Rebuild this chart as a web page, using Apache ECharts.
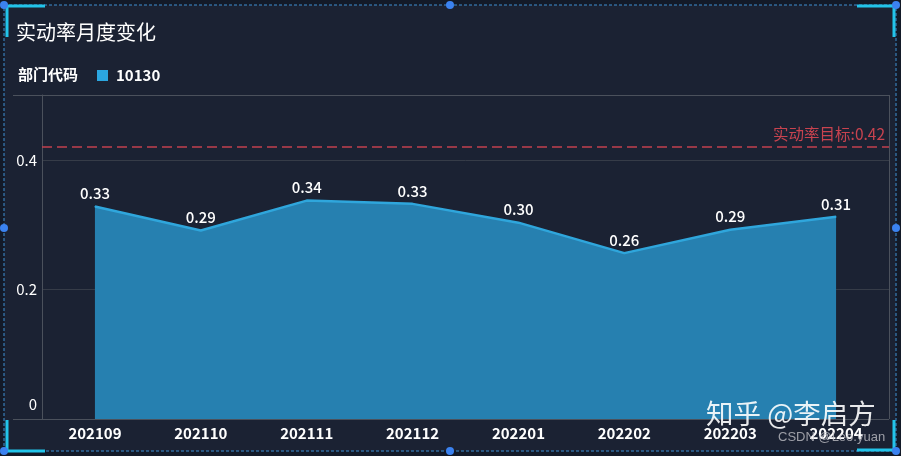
<!DOCTYPE html>
<html>
<head>
<meta charset="utf-8">
<script src="https://cdn.jsdelivr.net/npm/echarts@6/dist/echarts.min.js"></script>
<style>
html,body{margin:0;padding:0;background:#131a28;}
#main{width:901px;height:456px;}
</style>
</head>
<body>
<div id="main"></div>
<script>
var categories = ['202109','202110','202111','202112','202201','202202','202203','202204'];
var values = [0.328, 0.291, 0.337, 0.332, 0.303, 0.256, 0.292, 0.312];
var seriesName = '10130';
var targetValue = 0.42;
var yTicks = [0, 0.2, 0.4];

var chart = echarts.init(document.getElementById('main'));
var font = '"Microsoft YaHei","Noto Sans CJK SC",sans-serif';
var option = {
  backgroundColor: '#131a28',
  textStyle: {fontFamily: font},
  title: [
    {text: '实动率月度变化', left: 11, top: 17, textStyle: {color: '#ffffff', fontSize: 20, fontWeight: 'normal', fontFamily: font}},
    {text: '部门代码', left: 13, top: 62, textStyle: {color: '#ffffff', fontSize: 15, fontWeight: 'bold', fontFamily: font}}
  ],
  legend: {
    left: 92, top: 63,
    itemWidth: 11, itemHeight: 11, itemGap: 8,
    icon: 'rect',
    textStyle: {color: '#ffffff', fontSize: 15, fontWeight: 'bold', fontFamily: font, padding: [0, 0, 0, 3]},
    data: [seriesName]
  },
  grid: {left: 42, right: 12, top: 95, bottom: 37, containLabel: false},
  xAxis: {
    type: 'category',
    data: categories,
    boundaryGap: true,
    axisLine: {show: false},
    axisTick: {show: false},
    axisLabel: {color: '#ffffff', fontSize: 15, fontWeight: 'bold', margin: 7, fontFamily: font}
  },
  yAxis: {
    type: 'value',
    min: 0, max: 0.5, interval: 0.2,
    axisLine: {show: true, lineStyle: {color: '#4b515c'}},
    axisTick: {show: false},
    axisLabel: {
      color: '#ffffff', fontSize: 15, margin: 5, fontFamily: font,
      formatter: function (v) {
        var r = Math.round(v * 10) / 10;
        if (yTicks.indexOf(r) < 0) return '';
        return r === 0 ? '{zero|0}' : String(r);
      },
      rich: {zero: {color: '#ffffff', fontSize: 15, fontFamily: font, padding: [0, 0, 30, 0]}}
    },
    splitLine: {show: true, lineStyle: {color: '#363c48'}}
  },
  series: [{
    name: seriesName,
    type: 'line',
    data: values,
    symbol: 'circle',
    symbolSize: 1,
    showSymbol: true,
    lineStyle: {color: '#2fa6dc', width: 2.5},
    itemStyle: {color: '#2ba6e0'},
    areaStyle: {color: '#2680b0', opacity: 1},
    label: {
      show: true, position: 'top', color: '#ffffff', fontSize: 15, fontWeight: 500, distance: 5, fontFamily: font,
      formatter: function (p) { return p.value.toFixed(2); }
    },
    markLine: {
      silent: true,
      symbol: 'none',
      data: [{yAxis: targetValue}],
      lineStyle: {color: '#c2404f', type: [10, 5], width: 1.5, opacity: 1},
      label: {position: 'insideEndTop', formatter: '实动率目标:' + targetValue, color: '#c8434f', fontSize: 15.5, fontFamily: font, distance: [4, 5]}
    }
  }],
  graphic: [
    {type: 'rect', z: -100, shape: {x: 4, y: 5, width: 892, height: 446}, style: {fill: '#1b2233', stroke: '#3f8fd3', lineWidth: 1, lineDash: [3, 2]}, silent: true},
    {type: 'line', z: 1, shape: {x1: 13, y1: 95.5, x2: 889, y2: 95.5}, style: {stroke: '#4b515c', lineWidth: 1}},
    {type: 'line', z: 1, shape: {x1: 13, y1: 419.5, x2: 889, y2: 419.5}, style: {stroke: '#4b515c', lineWidth: 1}},
    {type: 'line', z: 1, shape: {x1: 889.5, y1: 95, x2: 889.5, y2: 419}, style: {stroke: '#4b515c', lineWidth: 1}},
    {type: 'polyline', z: 5, shape: {points: [[7, 37], [7, 6], [45, 6]]}, style: {stroke: '#22c4ea', lineWidth: 3, fill: null}},
    {type: 'polyline', z: 5, shape: {points: [[857, 6], [894, 6], [894, 37]]}, style: {stroke: '#22c4ea', lineWidth: 3, fill: null}},
    {type: 'polyline', z: 5, shape: {points: [[7, 420], [7, 451], [45, 451]]}, style: {stroke: '#22c4ea', lineWidth: 3, fill: null}},
    {type: 'polyline', z: 5, shape: {points: [[857, 450], [894, 450], [894, 420]]}, style: {stroke: '#22c4ea', lineWidth: 3, fill: null}},
    {type: 'circle', z: 6, shape: {cx: 4, cy: 5, r: 4}, style: {fill: '#3b82f0'}},
    {type: 'circle', z: 6, shape: {cx: 450, cy: 5, r: 4}, style: {fill: '#3b82f0'}},
    {type: 'circle', z: 6, shape: {cx: 896, cy: 5, r: 4}, style: {fill: '#3b82f0'}},
    {type: 'circle', z: 6, shape: {cx: 4, cy: 228, r: 4}, style: {fill: '#3b82f0'}},
    {type: 'circle', z: 6, shape: {cx: 896, cy: 228, r: 4}, style: {fill: '#3b82f0'}},
    {type: 'circle', z: 6, shape: {cx: 4, cy: 451, r: 4}, style: {fill: '#3b82f0'}},
    {type: 'circle', z: 6, shape: {cx: 450, cy: 451, r: 4}, style: {fill: '#3b82f0'}},
    {type: 'circle', z: 6, shape: {cx: 896, cy: 451, r: 4}, style: {fill: '#3b82f0'}},
    {type: 'text', z: 100, left: 706, top: 400, style: {text: '知乎 @李启方', fill: 'rgba(255,255,255,0.9)', fontSize: 27.5, fontFamily: font}},
    {type: 'text', z: 100, left: 778, top: 431, style: {text: 'CSDN @Leo.yuan', fill: 'rgba(200,200,205,0.75)', fontSize: 13, fontFamily: '"Liberation Sans",Arial,sans-serif'}}
  ]
};
chart.setOption(option);
</script>
</body>
</html>
